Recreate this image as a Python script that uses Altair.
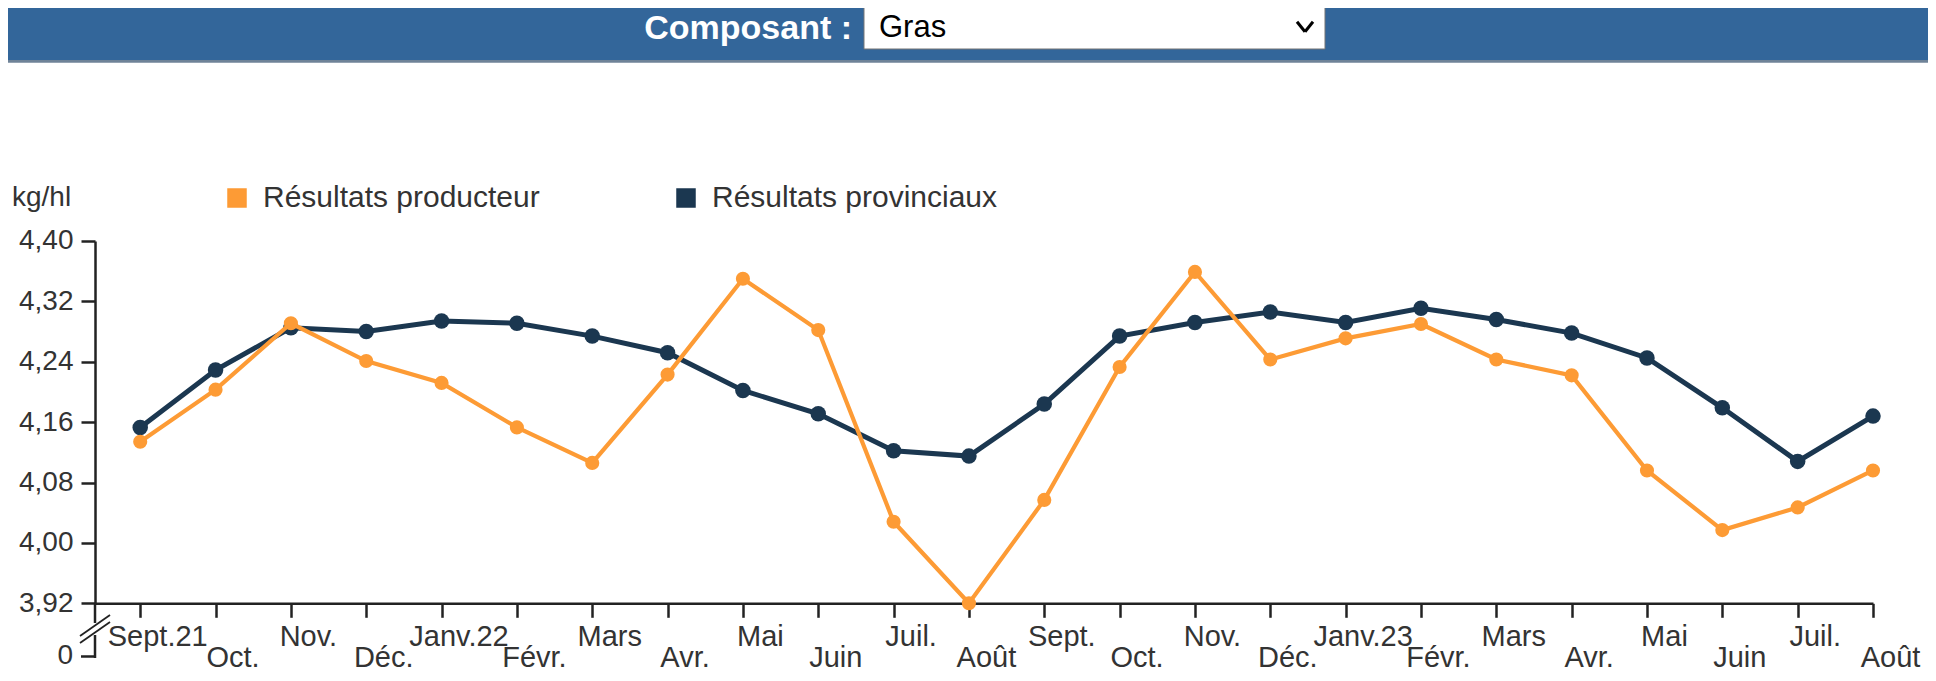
import json
import altair as alt
import pandas as pd

# ---- data ----
months = ["Sept.21", "Oct.", "Nov.", "Déc.", "Janv.22", "Févr.", "Mars", "Avr.", "Mai", "Juin", "Juil.", "Août",
          "Sept.", "Oct.", "Nov.", "Déc.", "Janv.23", "Févr.", "Mars", "Avr.", "Mai", "Juin", "Juil.", "Août"]
producteur = [4.134, 4.203, 4.291, 4.241, 4.212, 4.153, 4.106, 4.223, 4.350, 4.282, 4.028, 3.920,
              4.057, 4.233, 4.359, 4.243, 4.271, 4.290, 4.243, 4.222, 4.096, 4.017, 4.047, 4.096]
provinciaux = [4.153, 4.229, 4.285, 4.280, 4.294, 4.291, 4.274, 4.252, 4.202, 4.171, 4.122, 4.115,
               4.184, 4.274, 4.292, 4.306, 4.292, 4.311, 4.296, 4.278, 4.245, 4.179, 4.108, 4.168]
y_ticks = [3.92, 4.00, 4.08, 4.16, 4.24, 4.32, 4.40]
series_names = ["Résultats producteur", "Résultats provinciaux"]
series_colors = ["#fd9b35", "#1b3750"]
unit_label = "kg/hl"
zero_label = "0"
header_label = "Composant :"
select_value = "Gras"

FONT = "Liberation Sans, Arial, sans-serif"
FS = 28
TXT = "#333333"

LEFT, TOP, RIGHT, BOTTOM = 87, 233, 55, 70
W, H = 1778, 362.3


def px(page_x):
    return page_x - 8 - LEFT


def py(page_y):
    return page_y - 8 - TOP


rows = []
for i, m in enumerate(months):
    rows.append({"idx": i, "month": m, "value": producteur[i], "series": series_names[0]})
    rows.append({"idx": i, "month": m, "value": provinciaux[i], "series": series_names[1]})
df = pd.DataFrame(rows)

arr = json.dumps(months, ensure_ascii=False)
x_label_expr = f"datum.value % 2 == 0 ? {arr}[datum.value] : ['', {arr}[datum.value]]"

x_enc = alt.X("idx:Q",
              scale=alt.Scale(domain=[-0.6, 23], nice=False, zero=False),
              axis=alt.Axis(values=list(range(len(months))), labelExpr=x_label_expr,
                            labelAlign="center", labelOffset=17, labelBaseline="alphabetic",
                            labelPadding=28, labelLineHeight=21, labelOverlap=False,
                            labelFontSize=29, labelFlush=False, title=None))
y_enc = alt.Y("value:Q",
              scale=alt.Scale(domain=[3.92, 4.40], nice=False, zero=False),
              axis=alt.Axis(values=y_ticks,
                            labelExpr="replace(format(datum.value, '.2f'), '.', ',')",
                            labelPadding=8, title=None))
legend = alt.Legend(title=None, orient="none", legendX=px(222), legendY=py(183), direction="horizontal",
                    symbolType="square", symbolSize=324, symbolStrokeWidth=1.5,
                    labelFontSize=30, labelFont=FONT, labelColor=TXT, labelOffset=11,
                    columnPadding=131, labelLimit=0, padding=0)
color_enc = alt.Color("series:N", scale=alt.Scale(domain=series_names, range=series_colors),
                      legend=legend)

base = alt.Chart(df).encode(x=x_enc, y=y_enc, color=color_enc)

layers = []
for name, lw, psize in [(series_names[1], 5, 240), (series_names[0], 4.2, 200)]:
    sub = base.transform_filter(alt.datum.series == name)
    layers.append(sub.mark_line(strokeWidth=lw, clip=False))
    layers.append(sub.mark_point(filled=True, opacity=1, size=psize, clip=False))

one = pd.DataFrame({"k": [0]})
deco = alt.Chart(one)

# header bar and select box
header = [
    deco.mark_rect(color="#33669a").encode(x=alt.value(px(0)), x2=alt.value(px(1936)),
                                           y=alt.value(py(0)), y2=alt.value(py(60))),
    deco.mark_rect(color="#6f8398").encode(x=alt.value(px(0)), x2=alt.value(px(1936)),
                                           y=alt.value(py(60)), y2=alt.value(py(62.7))),
    deco.mark_rect(fill="white", stroke="#767676", strokeWidth=1).encode(
        x=alt.value(px(864)), x2=alt.value(px(1325)), y=alt.value(py(5)), y2=alt.value(py(49))),
    deco.mark_text(text=header_label, font=FONT, fontSize=34, fontWeight="bold", color="white",
                   align="right", baseline="middle").encode(x=alt.value(px(852)), y=alt.value(py(29.5))),
    deco.mark_text(text=select_value, font=FONT, fontSize=31, color="black",
                   align="left", baseline="middle").encode(x=alt.value(px(879)), y=alt.value(py(28.5))),
    deco.mark_rule(color="black", strokeWidth=3).encode(
        x=alt.value(px(1297)), x2=alt.value(px(1305)), y=alt.value(py(21.7)), y2=alt.value(py(31.7))),
    deco.mark_rule(color="black", strokeWidth=3).encode(
        x=alt.value(px(1305)), x2=alt.value(px(1313)), y=alt.value(py(31.7)), y2=alt.value(py(21.7))),
]

# unit label and axis break down to zero
axis_extra = [
    deco.mark_text(text=unit_label, font=FONT, fontSize=FS, color=TXT, align="left",
                   baseline="middle").encode(x=alt.value(px(12)), y=alt.value(py(197.7))),
    deco.mark_rule(color="#222", strokeWidth=2.5).encode(
        x=alt.value(0), y=alt.value(H), y2=alt.value(H + 19.7)),
    deco.mark_rule(color="#222", strokeWidth=2.5).encode(
        x=alt.value(0), y=alt.value(H + 31.7), y2=alt.value(H + 54.7)),
    deco.mark_rule(color="#222", strokeWidth=2.5).encode(
        x=alt.value(-14), x2=alt.value(0), y=alt.value(H + 53.2)),
    deco.mark_rule(color="#222", strokeWidth=1.8).encode(
        x=alt.value(-15), x2=alt.value(15), y=alt.value(H + 32.7), y2=alt.value(H + 11.7)),
    deco.mark_rule(color="#222", strokeWidth=1.8).encode(
        x=alt.value(-15), x2=alt.value(15), y=alt.value(H + 39.7), y2=alt.value(H + 18.7)),
    deco.mark_text(text=zero_label, font=FONT, fontSize=FS, color=TXT, align="right",
                   baseline="middle").encode(x=alt.value(-22), y=alt.value(H + 53.2)),
]

chart = alt.layer(*header, *axis_extra, *layers).properties(
    width=W, height=H,
    autosize=alt.AutoSizeParams(type="none"),
    padding={"left": LEFT, "top": TOP, "right": RIGHT, "bottom": BOTTOM},
).configure_view(stroke=None).configure_axis(
    domainColor="#222", domainWidth=2.5, tickColor="#222", tickWidth=2.5, tickSize=14,
    labelFont=FONT, labelFontSize=FS, labelColor=TXT, grid=False,
).configure_legend(symbolStrokeColor="#333333")

chart.save("out.html", embed_options={"renderer": "svg", "actions": False})
